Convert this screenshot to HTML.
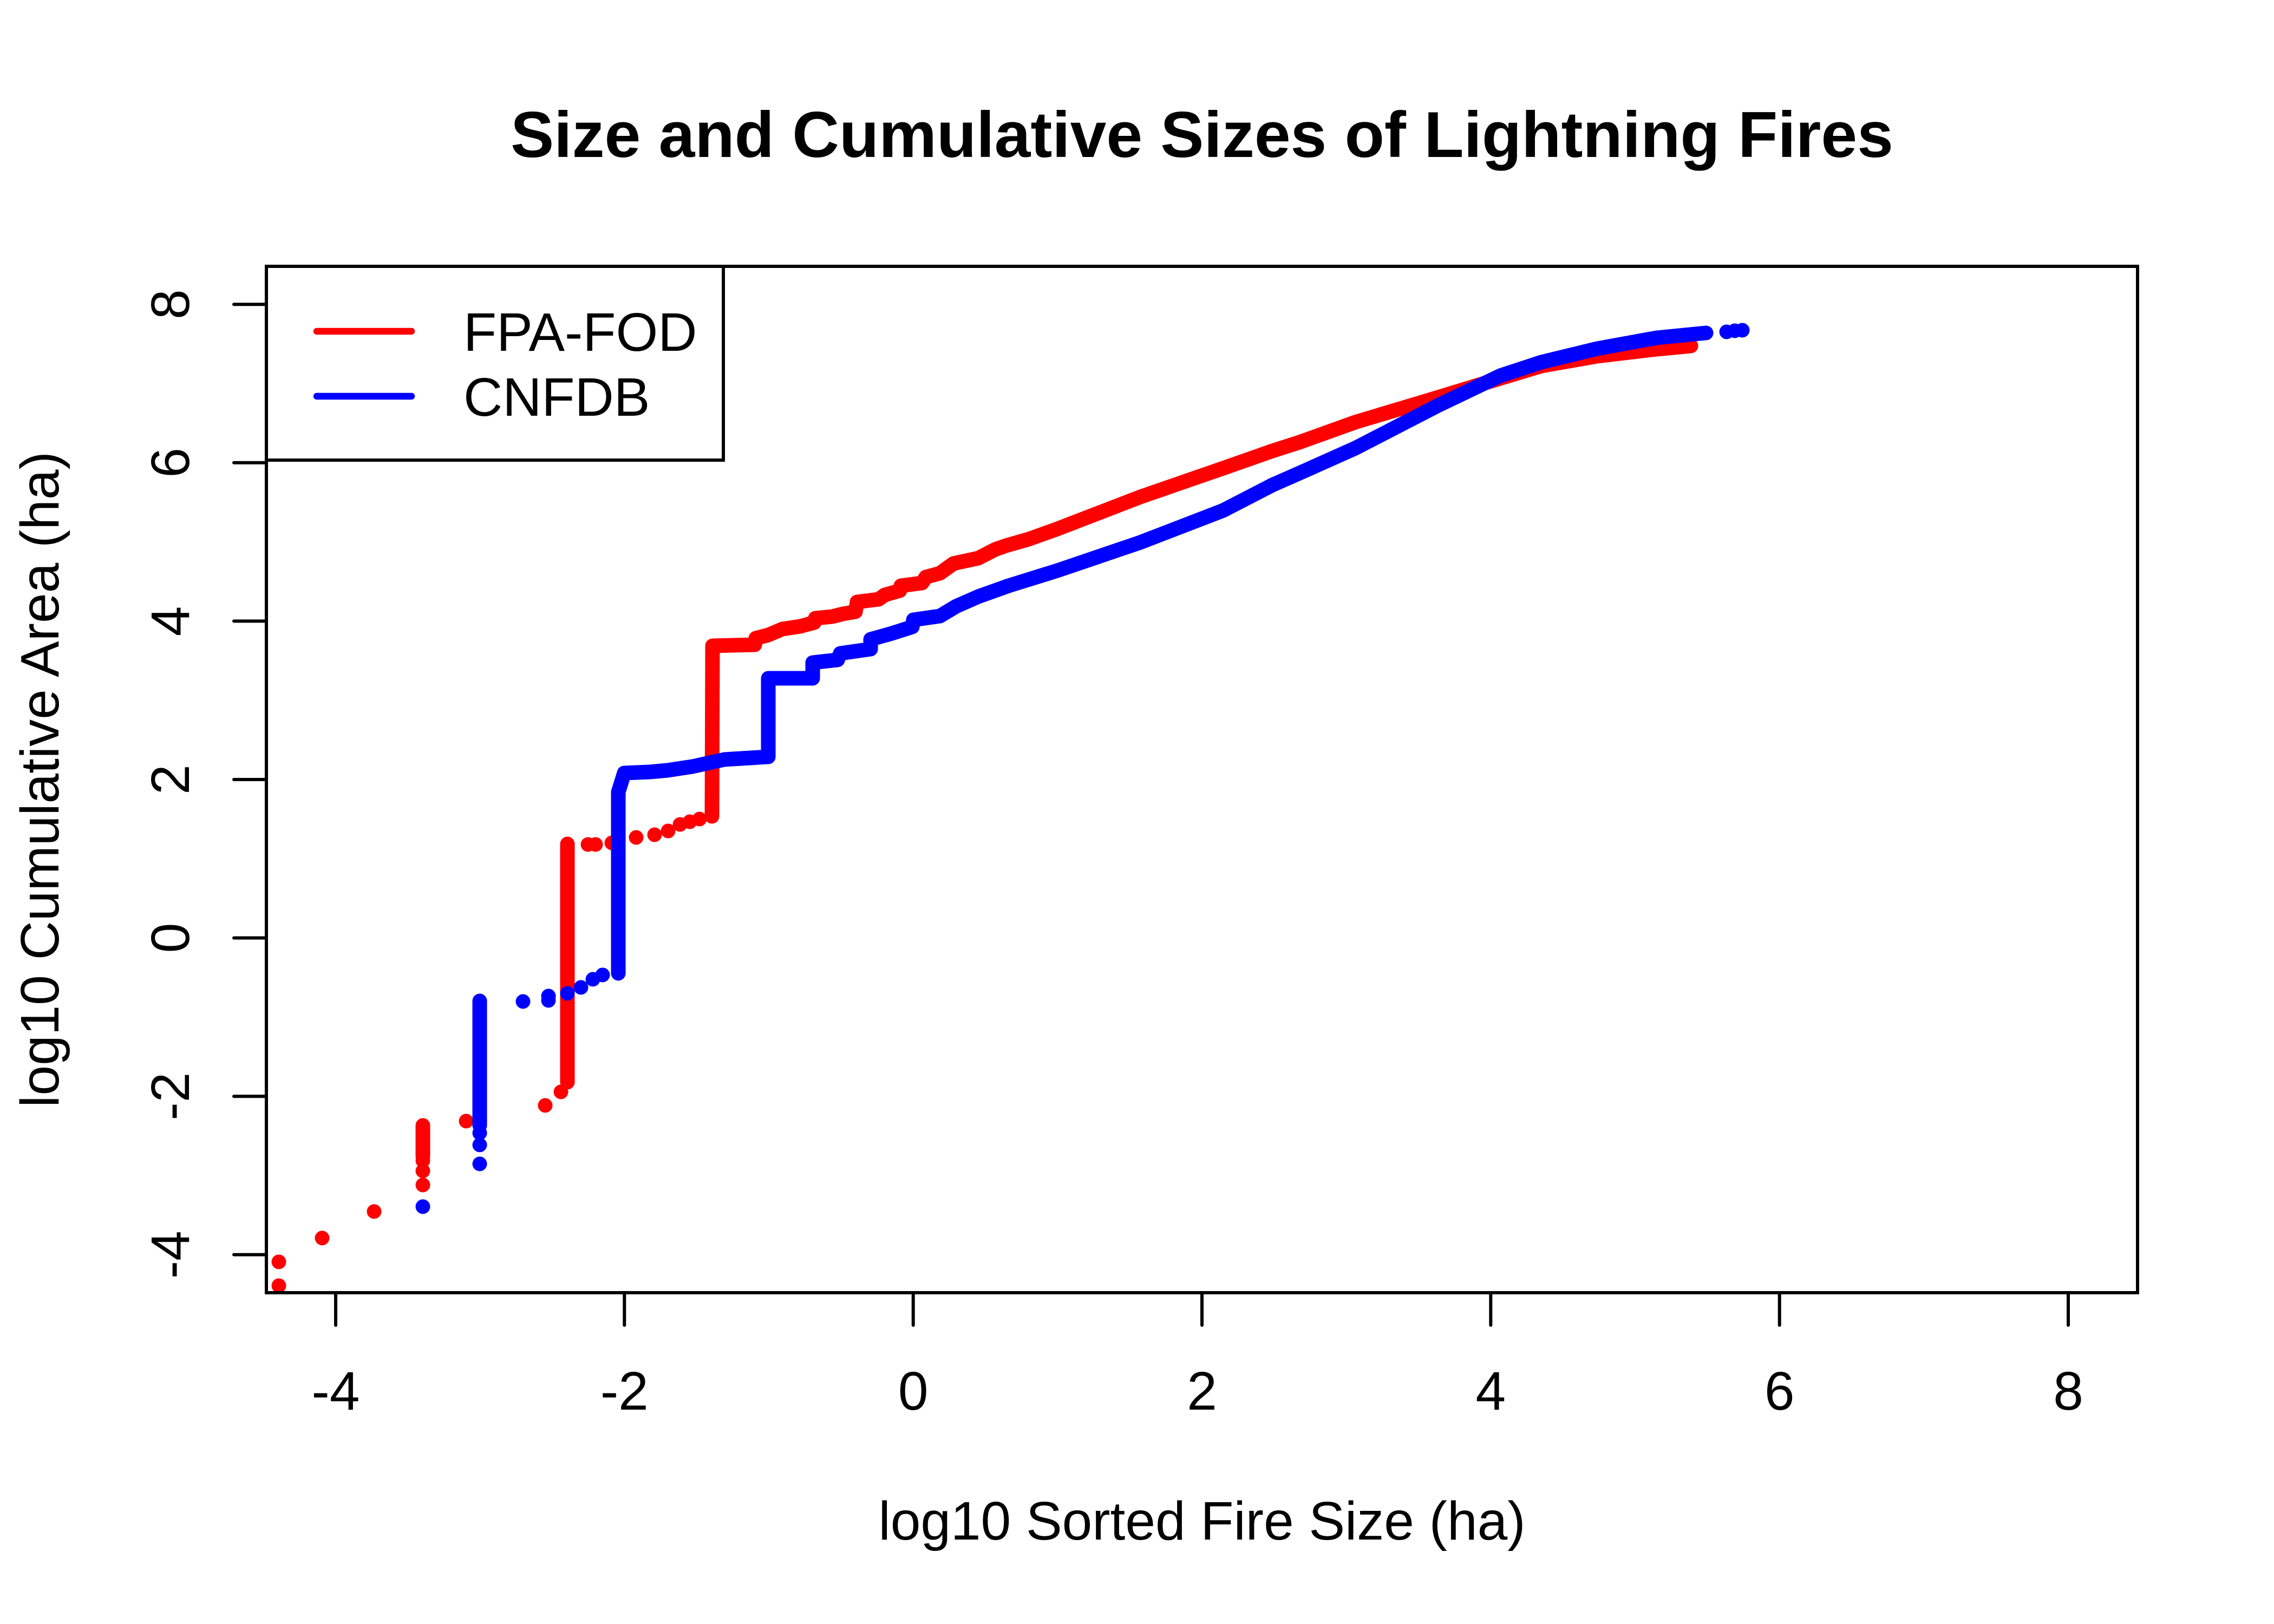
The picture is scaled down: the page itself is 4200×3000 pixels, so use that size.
<!DOCTYPE html>
<html>
<head>
<meta charset="utf-8">
<style>
html,body{margin:0;padding:0;background:#fff;}
svg{display:block;}
text{font-family:"Liberation Sans",Arial,sans-serif;fill:#000;}
</style>
</head>
<body>
<svg width="4200" height="3000" viewBox="0 0 4200 3000" xmlns="http://www.w3.org/2000/svg">
<rect x="0" y="0" width="4200" height="3000" fill="#fff"/>
<defs>
<clipPath id="pr"><rect x="492" y="492" width="3456" height="1896"/></clipPath>
</defs>

<!-- Title -->
<text x="2220" y="290" font-size="120" font-weight="bold" text-anchor="middle">Size and Cumulative Sizes of Lightning Fires</text>

<!-- Axis titles -->
<text x="2220" y="2844" font-size="100" text-anchor="middle">log10 Sorted Fire Size (ha)</text>
<text transform="translate(108,1440) rotate(-90)" font-size="100" text-anchor="middle">log10 Cumulative Area (ha)</text>

<!-- Data -->
<g clip-path="url(#pr)">
  <!-- Red series (FPA-FOD) -->
  <g fill="#ff0000" stroke="none">
    <circle cx="515" cy="2375" r="13.5"/>
    <circle cx="515" cy="2331" r="13.5"/>
    <circle cx="595" cy="2287" r="13.5"/>
    <circle cx="691" cy="2238" r="13.5"/>
    <circle cx="781" cy="2189" r="13.5"/>
    <circle cx="781" cy="2163" r="13.5"/>
    <circle cx="781" cy="2144" r="13.5"/>
    <circle cx="861" cy="2071" r="13.5"/>
    <circle cx="1007" cy="2042" r="13.5"/>
    <circle cx="1036" cy="2017" r="13.5"/>
    <circle cx="1048" cy="1999" r="13.5"/>
    <circle cx="1086" cy="1560" r="13.5"/>
    <circle cx="1100" cy="1560" r="13.5"/>
    <circle cx="1130" cy="1557" r="13.5"/>
    <circle cx="1175" cy="1547" r="13.5"/>
    <circle cx="1209" cy="1542" r="13.5"/>
    <circle cx="1234" cy="1535" r="13.5"/>
    <circle cx="1256" cy="1523" r="13.5"/>
    <circle cx="1274" cy="1518" r="13.5"/>
    <circle cx="1292" cy="1513" r="13.5"/>
  </g>
  <g fill="none" stroke="#ff0000" stroke-width="27" stroke-linecap="round" stroke-linejoin="round">
    <polyline points="781,2079 781,2136"/>
    <polyline points="1048,1999 1048,1559"/>
    <polyline points="1315,1508 1316,1193 1394,1191 1396,1179 1419,1173 1445,1162 1478,1157 1504,1150 1506,1142 1537,1139 1557,1134 1580,1130 1583,1112 1623,1107 1634,1099 1662,1091 1664,1082 1703,1077 1710,1066 1736,1059 1761,1041 1807,1031 1838,1015 1858,1008 1900,996 1953,977 2106,918 2259,865 2350,833 2400,817 2503,780 2656,734 2771,699 2847,676 2950,658 3060,645 3123,639"/>
  </g>

  <!-- Blue series (CNFDB) -->
  <g fill="#0000ff" stroke="none">
    <circle cx="781" cy="2229" r="13.5"/>
    <circle cx="886" cy="2150" r="13.5"/>
    <circle cx="886" cy="2115" r="13.5"/>
    <circle cx="886" cy="2093" r="13.5"/>
    <circle cx="966" cy="1850" r="13.5"/>
    <circle cx="1013" cy="1840" r="13.5"/>
    <circle cx="1013" cy="1848" r="13.5"/>
    <circle cx="1048" cy="1835" r="13.5"/>
    <circle cx="1073" cy="1824" r="13.5"/>
    <circle cx="1095" cy="1809" r="13.5"/>
    <circle cx="1113" cy="1801" r="13.5"/>
    <circle cx="3189" cy="613" r="13.5"/>
    <circle cx="3204" cy="611" r="13.5"/>
    <circle cx="3218" cy="610" r="13.5"/>
  </g>
  <g fill="none" stroke="#0000ff" stroke-width="27" stroke-linecap="round" stroke-linejoin="round">
    <polyline points="886,1849 886,2079"/>
    <polyline points="1142,1798 1142,1463 1153,1428 1200,1426 1233,1423 1279,1416 1338,1403 1419,1398 1419,1253 1501,1253 1501,1224 1547,1219 1552,1207 1608,1199 1608,1181 1644,1171 1685,1158 1687,1145 1736,1138 1766,1120 1807,1102 1863,1082 1953,1054 2106,1002 2259,943 2350,896 2400,874 2503,828 2656,749 2771,694 2847,669 2950,644 3060,624 3151,615"/>
  </g>
</g>

<!-- Plot box -->
<rect x="492" y="492" width="3456" height="1896" fill="none" stroke="#000" stroke-width="6"/>

<!-- X axis ticks -->
<g stroke="#000" stroke-width="6" stroke-linecap="round">
  <line x1="620" y1="2388" x2="620" y2="2448"/>
  <line x1="1153.3" y1="2388" x2="1153.3" y2="2448"/>
  <line x1="1686.7" y1="2388" x2="1686.7" y2="2448"/>
  <line x1="2220" y1="2388" x2="2220" y2="2448"/>
  <line x1="2753.3" y1="2388" x2="2753.3" y2="2448"/>
  <line x1="3286.7" y1="2388" x2="3286.7" y2="2448"/>
  <line x1="3820" y1="2388" x2="3820" y2="2448"/>
</g>
<g font-size="100" text-anchor="middle">
  <text x="620" y="2604">-4</text>
  <text x="1153.3" y="2604">-2</text>
  <text x="1686.7" y="2604">0</text>
  <text x="2220" y="2604">2</text>
  <text x="2753.3" y="2604">4</text>
  <text x="3286.7" y="2604">6</text>
  <text x="3820" y="2604">8</text>
</g>

<!-- Y axis ticks -->
<g stroke="#000" stroke-width="6" stroke-linecap="round">
  <line x1="432" y1="2317.8" x2="492" y2="2317.8"/>
  <line x1="432" y1="2025.2" x2="492" y2="2025.2"/>
  <line x1="432" y1="1732.6" x2="492" y2="1732.6"/>
  <line x1="432" y1="1440" x2="492" y2="1440"/>
  <line x1="432" y1="1147.4" x2="492" y2="1147.4"/>
  <line x1="432" y1="854.8" x2="492" y2="854.8"/>
  <line x1="432" y1="562.2" x2="492" y2="562.2"/>
</g>
<g font-size="100" text-anchor="middle">
  <text transform="translate(349,2317.8) rotate(-90)">-4</text>
  <text transform="translate(349,2025.2) rotate(-90)">-2</text>
  <text transform="translate(349,1732.6) rotate(-90)">0</text>
  <text transform="translate(349,1440) rotate(-90)">2</text>
  <text transform="translate(349,1147.4) rotate(-90)">4</text>
  <text transform="translate(349,854.8) rotate(-90)">6</text>
  <text transform="translate(349,562.2) rotate(-90)">8</text>
</g>

<!-- Legend -->
<rect x="492" y="492" width="844" height="358" fill="#fff" stroke="#000" stroke-width="6"/>
<line x1="585" y1="612" x2="760" y2="612" stroke="#ff0000" stroke-width="12.5" stroke-linecap="round"/>
<line x1="585" y1="732" x2="760" y2="732" stroke="#0000ff" stroke-width="12.5" stroke-linecap="round"/>
<text x="856" y="648" font-size="100">FPA-FOD</text>
<text x="856" y="768" font-size="100">CNFDB</text>
</svg>
</body>
</html>
